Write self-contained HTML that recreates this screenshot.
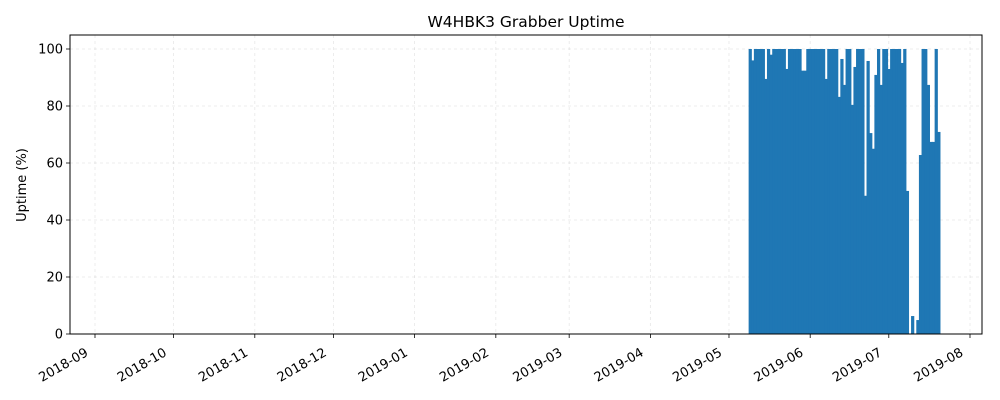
<!DOCTYPE html>
<html><head><meta charset="utf-8"><style>
body{margin:0;background:#fff;}
svg{display:block;font-family:"DejaVu Sans","Liberation Sans",sans-serif;}
</style></head><body>
<svg id="chart" width="1000" height="400"></svg>
<script>
const startDate = "2019-05-09";
const uptimeValues = [100,96,100,100,100,100,89.5,100,98,100,100,100,100,100,93,100,100,100,100,100,92.4,92.4,100,100,100,100,100,100,100,89.5,100,100,100,100,83.2,96.5,87.4,100,100,80.4,93.7,100,100,100,48.5,95.8,70.5,65,90.9,100,87.4,100,100,93,100,100,100,100,95.1,100,50.2,0,6.3,0,4.9,62.8,100,100,87.4,67.4,67.4,100,70.9];
const xTickLabels = ["2018-09","2018-10","2018-11","2018-12","2019-01","2019-02","2019-03","2019-04","2019-05","2019-06","2019-07","2019-08"];
const yTickValues = [0,20,40,60,80,100];

const NS="http://www.w3.org/2000/svg";
const svg=document.getElementById('chart');
const L=70,R=982,T=35,B=334;
const origin=Date.UTC(2018,8,1);
const DAY=86400000;
const pxPerDay=875/334;
function xDay(d){return 95+d*pxPerDay;}
function dayOf(s){const p=s.split('-').map(Number);return (Date.UTC(p[0],p[1]-1,p[2]||1)-origin)/DAY;}
function y(v){return B-(v/100)*(B-49);}
function mk(t,a,p){const e=document.createElementNS(NS,t);for(const k in a)e.setAttribute(k,a[k]);(p||svg).appendChild(e);return e;}

// grid
const grid=mk('g',{});


xTickLabels.forEach(s=>{const x=xDay(dayOf(s));mk('line',{x1:x,x2:x,y1:T,y2:B,stroke:'#b0b0b0','stroke-opacity':0.3,'stroke-dasharray':'3,3','stroke-width':0.8},grid);});
yTickValues.forEach(v=>{mk('line',{x1:L,x2:R,y1:y(v),y2:y(v),stroke:'#b0b0b0','stroke-opacity':0.3,'stroke-dasharray':'3,3','stroke-width':0.8},grid);});

// bars
const bars=mk('g',{});


const d0=dayOf(startDate);
uptimeValues.forEach((v,i)=>{
  const c=xDay(d0+i);
  const r=mk('rect',{x:c-pxPerDay/2,y:y(v),width:pxPerDay+0.6,height:B-y(v),fill:'#1f77b4'},bars);
  
  
});

// frame
const fr=mk('rect',{x:L,y:T,width:R-L,height:B-T,fill:'none',stroke:'#000','stroke-width':1});



// x ticks
const xt=mk('g',{});


xTickLabels.forEach(s=>{
  const x=xDay(dayOf(s));
  mk('line',{x1:x,x2:x,y1:B,y2:B+4,stroke:'#000','stroke-width':0.8},xt);
  const ax=x-6, ay=B+21;
  const t=mk('text',{x:ax,y:ay,'font-size':13,'text-anchor':'end',transform:`rotate(-30 ${ax} ${ay})`,fill:'#000'},xt);
  t.textContent=s;
  
  
});
// y ticks
const yt=mk('g',{});


yTickValues.forEach(v=>{
  mk('line',{x1:L-4,x2:L,y1:y(v),y2:y(v),stroke:'#000','stroke-width':0.8},yt);
  const t=mk('text',{x:L-7,y:y(v)+4.5,'font-size':13,'text-anchor':'end',fill:'#000'},yt);
  t.textContent=v;
  
  
});
const yl=mk('text',{x:26,y:185,'font-size':13,'text-anchor':'middle',transform:'rotate(-90 26 185)',fill:'#000'});
yl.textContent='Uptime (%)';


const ti=mk('text',{x:526,y:27,'font-size':15.5,'text-anchor':'middle',fill:'#000'});
ti.textContent='W4HBK3 Grabber Uptime';


</script>
</body></html>
